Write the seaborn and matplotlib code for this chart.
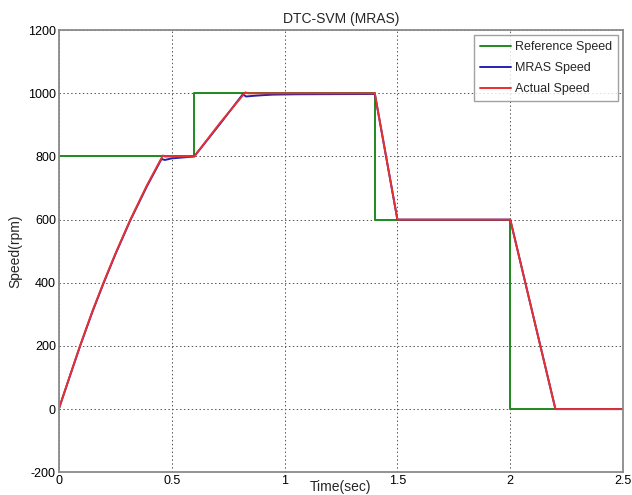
import matplotlib
matplotlib.use("Agg")
import matplotlib.pyplot as plt
import seaborn as sns
import pandas as pd

# Reference speed (step profile)
ref_t = [0.0, 0.6, 0.6, 1.4, 1.4, 2.0, 2.0, 2.5]
ref_v = [800, 800, 1000, 1000, 600, 600, 0, 0]

# MRAS estimated speed
mras_t = [0.0, 0.05, 0.094, 0.15, 0.198, 0.25, 0.317, 0.39, 0.455, 0.47, 0.50, 0.55, 0.60,
          0.714, 0.815, 0.83, 0.86, 0.90, 0.95, 1.05, 1.40, 1.50, 2.00, 2.20, 2.50]
mras_v = [0, 106, 199, 310, 398, 489, 598, 705, 792, 789, 794, 797, 800,
          903, 997, 990, 992, 994, 996, 997, 998, 600, 600, 0, 0]

# Actual rotor speed
act_t = [0.0, 0.05, 0.094, 0.15, 0.198, 0.25, 0.317, 0.39, 0.461, 0.47, 0.60,
         0.714, 0.826, 0.84, 1.40, 1.50, 2.00, 2.20, 2.50]
act_v = [0, 107, 200, 312, 400, 491, 600, 708, 803, 800, 800,
         906, 1003, 1000, 1000, 600, 600, 0, 0]

sns.set_style("white")
plt.rcParams['font.family'] = ['Liberation Sans', 'DejaVu Sans']
plt.rcParams['axes.unicode_minus'] = False

fig = plt.figure(figsize=(6.32, 4.95), dpi=100)
ax = fig.add_axes([0.093, 0.046, 0.893, 0.893])

series = [
    ("Reference Speed", ref_t, ref_v, "#1f8a1f"),
    ("MRAS Speed", mras_t, mras_v, "#2222b0"),
    ("Actual Speed", act_t, act_v, "#e8302f"),
]
for name, t, v, c in series:
    df = pd.DataFrame({"t": t, "v": v})
    sns.lineplot(data=df, x="t", y="v", ax=ax, color=c, lw=1.4, label=name,
                 estimator=None, sort=False)

ax.set_xlim(0, 2.5)
ax.set_ylim(-200, 1200)
ax.set_xticks([0, 0.5, 1, 1.5, 2, 2.5])
ax.set_xticklabels(["0", "0.5", "1", "1.5", "2", "2.5"])
ax.set_yticks(range(-200, 1201, 200))
ax.grid(True, linestyle=(0, (1.5, 2.5)), color="#555555", lw=0.7)
for s in ax.spines.values():
    s.set_color("#8a8a8a")
    s.set_linewidth(1.3)
ax.tick_params(direction="in", length=4, width=0.8, colors="#8a8a8a",
               labelcolor="black", labelsize=9, pad=2)
ax.set_title("DTC-SVM (MRAS)", fontsize=10, pad=5)
ax.set_xlabel("Time(sec)", fontsize=10, labelpad=-5)
ax.set_ylabel("Speed(rpm)", fontsize=10, labelpad=4)

leg = ax.legend(loc="upper right", fontsize=9, frameon=True, fancybox=False,
                borderaxespad=0.4, handlelength=2.5, handletextpad=0.3,
                labelspacing=0.7, borderpad=0.5)
leg.get_frame().set_edgecolor("#8a8a8a")
leg.get_frame().set_linewidth(1.0)

fig.savefig("out.png", dpi=100)
